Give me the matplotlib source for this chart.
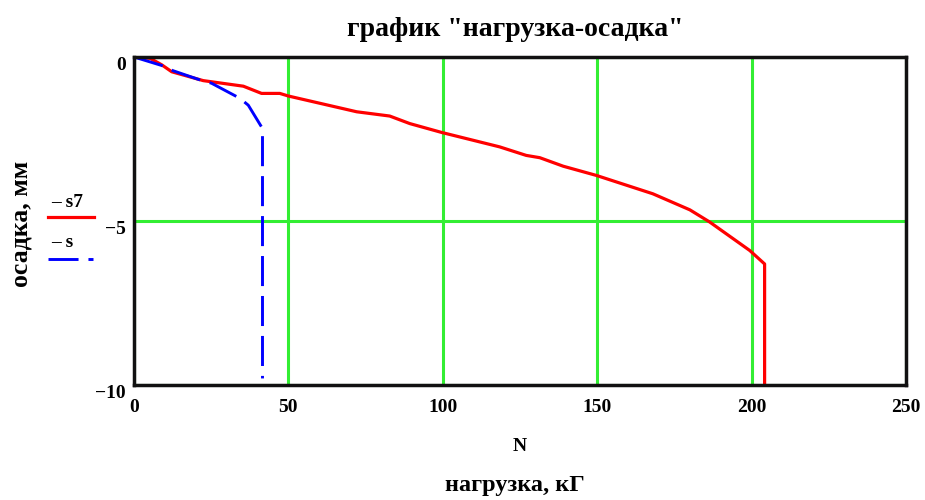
import matplotlib
matplotlib.use('Agg')
from matplotlib import pyplot as plt
from matplotlib.lines import Line2D
from matplotlib.transforms import ScaledTranslation

# load N, kG  /  settlement, mm
n_s7 = [0, 5.2, 9, 12.2, 22.4, 35.4, 41.3, 47.2, 50, 72.1, 82.8, 89.3, 99.6, 112, 118.4,
        127, 131.4, 139, 149.7, 168, 180, 186.4, 199.4, 204.2, 204.2]
s7 = [0, -0.04, -0.24, -0.45, -0.72, -0.89, -1.11, -1.11, -1.19, -1.67, -1.80, -2.03, -2.30,
      -2.59, -2.74, -3.0, -3.07, -3.33, -3.61, -4.17, -4.66, -5.03, -5.90, -6.31, -10]

n_s = [0, 9, 12.7, 21.4, 25.1, 34.3, 37, 41.6, 41.6]
s = [0, -0.26, -0.42, -0.70, -0.80, -1.26, -1.47, -2.18, -9.8]

x_ticks = [0, 50, 100, 150, 200, 250]
y_ticks = [-10, -5, 0]
y_tick_labels = ['\u221210', '\u22125', '0']

plt.rcParams['font.family'] = ['Liberation Serif', 'DejaVu Serif']
plt.rcParams['font.weight'] = 'bold'

fig = plt.figure(figsize=(9.25, 5), dpi=100)
ax = fig.add_axes([0.1449, 0.23, 0.8346, 0.656])

blue_dash = (10.3, 3.4)

ax.plot(n_s7, s7, color='#ff0000', lw=2.3, solid_joinstyle='round')
ax.plot(n_s, s, color='#0000ff', lw=2.1, dashes=blue_dash)

ax.set_xlim(0, 250)
ax.set_ylim(-10, 0)
ax.set_xticks(x_ticks)
ax.set_yticks(y_ticks)
ax.set_yticklabels(y_tick_labels)
ax.tick_params(axis='x', length=0, labelsize=14, pad=10)
ax.tick_params(axis='y', length=0, labelsize=14, pad=6)
# y tick labels sit a little below their lines in the original
shift = ScaledTranslation(0, -4.5 / 72, fig.dpi_scale_trans)
for lab in ax.get_yticklabels():
    lab.set_transform(lab.get_transform() + shift)
for lab in ax.get_xticklabels() + ax.get_yticklabels():
    lab.set_fontweight('bold')

ax.grid(True, color='#33ee33', lw=2.2)
ax.set_axisbelow(True)
for sp in ax.spines.values():
    sp.set_linewidth(2.5)
    sp.set_color('#111111')

fig.text(0.557, 0.94, 'график "нагрузка-осадка"', ha='center', va='center', fontsize=20)
ax.set_xlabel('N', fontsize=14, fontweight='bold', labelpad=16)
fig.text(0.557, 0.03, 'нагрузка, кГ', ha='center', va='center', fontsize=17.5)
fig.text(0.023, 0.553, 'осадка, мм', ha='center', va='center', rotation=90, fontsize=18.5)

# legend drawn by hand, label above the line sample
fig.text(0.055, 0.595, '\u2013 s7', ha='left', va='center', fontsize=14, fontweight='bold')
fig.add_artist(Line2D([0.052, 0.102], [0.566, 0.566], color='#ff0000', lw=2.3,
                      transform=fig.transFigure))
fig.text(0.055, 0.515, '\u2013 s', ha='left', va='center', fontsize=14, fontweight='bold')
fig.add_artist(Line2D([0.052, 0.1], [0.482, 0.482], color='#0000ff', lw=2.1,
                      dashes=blue_dash, transform=fig.transFigure))

plt.savefig('out.png', dpi=100)
